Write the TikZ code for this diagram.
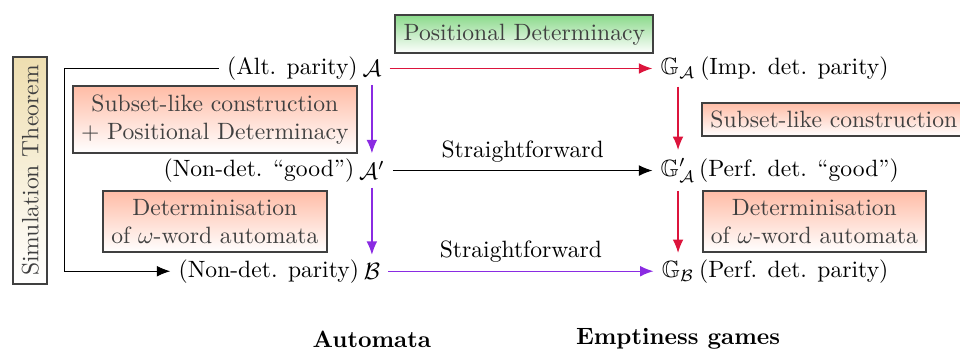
\documentclass[tikz,border=0pt]{standalone}
\usepackage{amsmath,amssymb}
\usepackage{xcolor}
\usepackage{tikz}
\usetikzlibrary{positioning,arrows.meta,shadings}

\definecolor{gamered}{RGB}{220,20,60}
\definecolor{autviolet}{RGB}{138,43,226}
\definecolor{boxsalmon}{RGB}{255,188,166}
\definecolor{boxgreen}{RGB}{140,218,140}
\definecolor{boxtan}{RGB}{238,222,176}

\begin{document}
\begin{tikzpicture}[
    proofbox/.style={draw=black!75, thick, text=black!75, inner sep=3.5pt,
                     align=center, top color=#1, bottom color=white},
    proofbox/.default=boxsalmon,
    >={Latex[length=2mm,width=1.6mm]}]
    \useasboundingbox (-5.54,1.02) rectangle (8.76,-4.23);

    % Automata
    \node (A) at (0,0) {$\mathcal{A}$};
    \node[left=-5pt of A] (Alab) {(Alt. parity)};
    \node (A1) at (0,-1.52) {$\mathcal{A}'$};
    \node[left=-5pt of A1] (A1lab) {(Non-det. ``good'')};
    \node (B) at (0,-3.02) {$\mathcal{B}$};
    \node[left=-5pt of B] (Blab) {(Non-det. parity)};

    % Games
    \node (GA) at (4.56,0) {$\mathbb{G}_{\mathcal{A}}$};
    \node[right=-5pt of GA] {(Imp. det. parity)};
    \node (GA1) at (4.56,-1.52) {$\mathbb{G}'_{\mathcal{A}}$};
    \node[right=-5.5pt of GA1] {(Perf. det. ``good'')};
    \node (GB) at (4.56,-3.02) {$\mathbb{G}_{\mathcal{B}}$};
    \node[right=-5pt of GB] {(Perf. det. parity)};

    % Arrows
    \draw[->, gamered, semithick] (A) -- (GA);
    \draw[->, gamered, semithick] (GA) -- (GA1);
    \draw[->, gamered, semithick] (GA1) -- (GB);
    \draw[->, autviolet, semithick] (A) -- (A1);
    \draw[->, autviolet, semithick] (A1) -- (B);
    \draw[->, autviolet, semithick] (B) -- node[above, text=black] {Straightforward} (GB);
    \draw[->] (A1) -- node[above] {Straightforward} (GA1);

    % Simulation line
    \coordinate (simtop) at (-4.58,0);
    \coordinate (simbot) at (-4.58,-3.02);
    \draw[->] (Alab.west) -- (simtop) -- (simbot) -- (Blab.west);

    % Boxes
    \node[proofbox=boxgreen] (posdet) at (2.27,0.51) {Positional Determinacy};
    \node[proofbox] (subsetL) at (-2.34,-0.76) {Subset-like construction\\+ Positional Determinacy};
    \node[proofbox] (subsetR) at (6.88,-0.76) {Subset-like construction};
    \node[proofbox] (detL) at (-2.34,-2.28) {Determinisation\\of $\omega$-word automata};
    \node[proofbox] (detR) at (6.59,-2.28) {Determinisation\\of $\omega$-word automata};
    \node[proofbox=boxtan, rotate=90] (simthm) at (-5.09,-1.52) {Simulation Theorem};

    % Column titles
    \node (auttitle) at (0,-4.04) {\textbf{Automata}};
    \node (gametitle) at (4.56,-4.02) {\textbf{Emptiness games}};
\end{tikzpicture}
\end{document}
